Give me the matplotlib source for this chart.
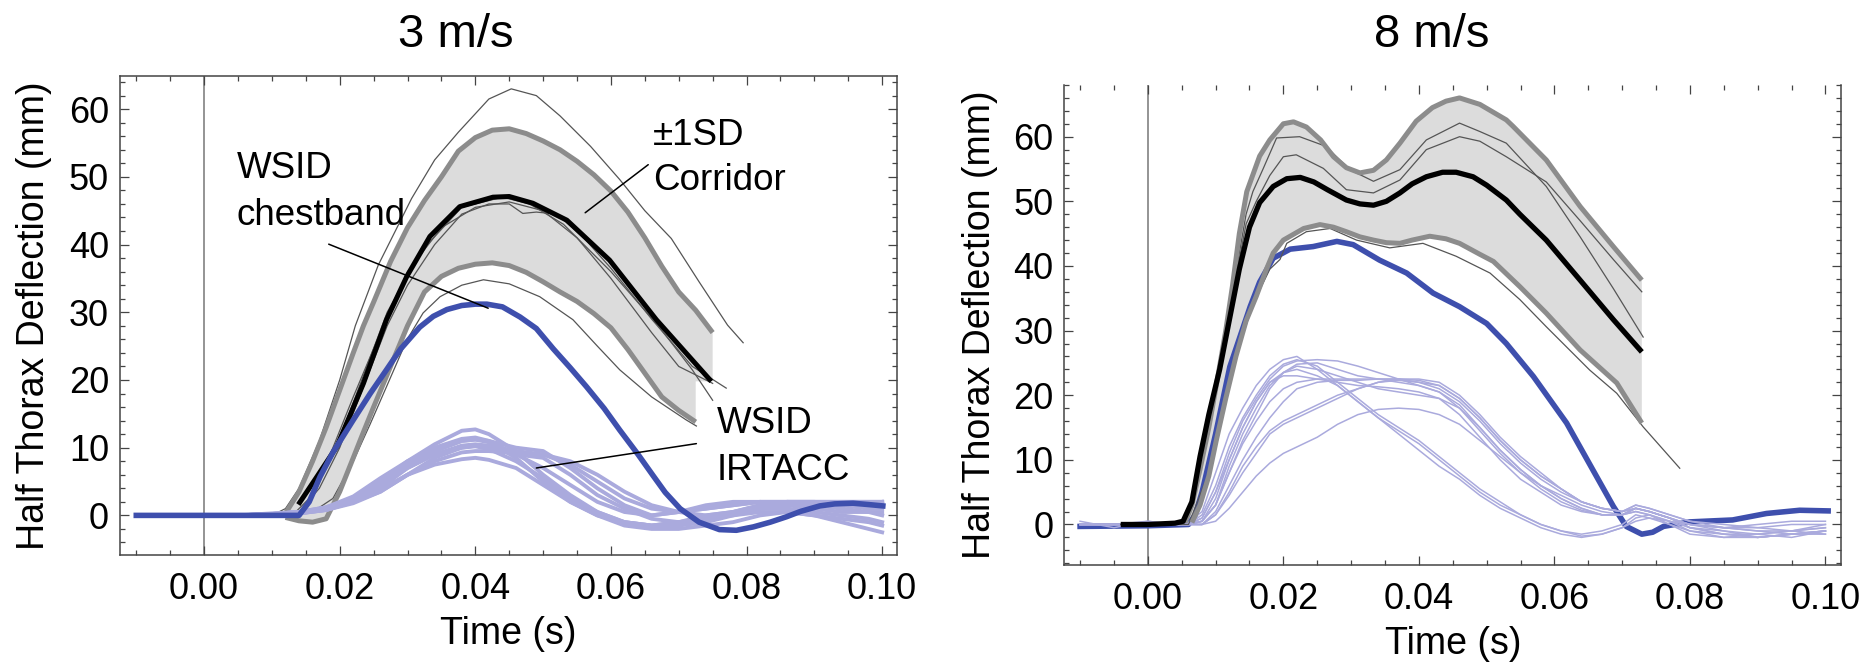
import numpy as np
import matplotlib
matplotlib.use("Agg")
import matplotlib.pyplot as plt
from matplotlib.ticker import MultipleLocator, FuncFormatter

plt.rcParams['font.family'] = ['Liberation Sans', 'DejaVu Sans']

# ================= 3 m/s =================
sd3_upper_t = [0.012, 0.014, 0.016, 0.018, 0.020, 0.022, 0.0235, 0.025, 0.0275, 0.030, 0.0325, 0.035, 0.0375, 0.040,
               0.0425, 0.045, 0.0475, 0.050, 0.0525, 0.055, 0.0575, 0.060, 0.0625, 0.065, 0.0675, 0.070, 0.0725, 0.075]
sd3_upper = [0.3, 3.5, 8, 13, 18.5, 24, 28, 31.5, 37.5, 42.5, 46.5, 50, 53.8, 55.8,
             56.9, 57.1, 56.4, 55.3, 54, 52.3, 50.3, 47.9, 44.8, 41, 36.8, 33, 30.3, 27]
sd3_lower_t = [0.012, 0.014, 0.016, 0.018, 0.020, 0.022, 0.0235, 0.025, 0.0275, 0.030, 0.0325, 0.035, 0.0375, 0.040,
               0.0425, 0.045, 0.0475, 0.050, 0.0525, 0.055, 0.0575, 0.060, 0.0625, 0.065, 0.0675, 0.070, 0.0725]
sd3_lower = [-0.3, -0.8, -1, -0.5, 3.5, 8.5, 12.3, 16, 22, 28, 33, 35.3, 36.5, 37.1,
             37.3, 36.9, 35.9, 34.5, 33, 31.6, 29.8, 27.7, 24.5, 21, 17.5, 15.5, 13.8]

mean3_t = [0.0139, 0.0165, 0.0196, 0.0235, 0.0269, 0.0299, 0.0333, 0.0377, 0.0426, 0.0450, 0.0485, 0.0535, 0.0598, 0.0667, 0.0748]
mean3 = [1.6, 5.5, 10.2, 19.5, 28.9, 35.3, 41.2, 45.6, 47.0, 47.1, 46.1, 43.6, 37.7, 28.9, 19.8]

thin3_t1 = [0.010, 0.012, 0.014, 0.017, 0.020, 0.0223, 0.0257, 0.0306, 0.0340, 0.0375, 0.0420, 0.0453, 0.0490, 0.0525,
            0.0570, 0.0613, 0.0650, 0.0689, 0.0730, 0.0772, 0.0795]
thin3_y1 = [0, 1, 4, 11, 20, 28, 37, 46.8, 52.5, 56.6, 61.5, 63, 62, 59, 54.5, 49.6, 45, 40.9, 34.5, 28.1, 25.5]
thin3_t2 = [0.013, 0.016, 0.019, 0.022, 0.0245, 0.0269, 0.0299, 0.0323, 0.0348, 0.038, 0.0412, 0.045, 0.0495, 0.0544,
            0.058, 0.0613, 0.066, 0.0711, 0.0726]
thin3_y2 = [0, 0.5, 2.5, 8, 13.5, 19, 25.9, 29.9, 32.3, 34, 34.8, 34.2, 32.3, 28.9, 25, 21.5, 17.5, 14.1, 13.2]
thin3_t3 = [0.014, 0.017, 0.020, 0.0235, 0.027, 0.030, 0.034, 0.038, 0.042, 0.045, 0.047, 0.049, 0.052, 0.056, 0.060,
            0.066, 0.072, 0.077]
thin3_y3 = [0.5, 4, 10, 19, 28, 34, 40, 44.5, 46, 46, 44.6, 44.8, 44.5, 41, 36.5, 29, 22, 18.8]
thin3_t4 = [0.013, 0.016, 0.019, 0.022, 0.026, 0.030, 0.035, 0.040, 0.045, 0.050, 0.055, 0.060, 0.066, 0.070, 0.075]
thin3_y4 = [0, 3, 10, 17.5, 27, 36, 42.5, 45.5, 46.3, 45, 41, 35, 27, 22, 19.5]
thin3_t5 = [0.014, 0.017, 0.021, 0.024, 0.027, 0.032, 0.038, 0.044, 0.048, 0.053, 0.060, 0.067, 0.072, 0.075]
thin3_y5 = [0, 5, 14, 22, 30, 39, 45.5, 47, 46, 43, 36, 28, 21.5, 17]

blue3_t = [-0.010, 0.000, 0.010, 0.0140, 0.0155, 0.0171, 0.019, 0.022, 0.0245, 0.0269, 0.029, 0.0318, 0.0338, 0.0358,
           0.038, 0.040, 0.0417, 0.044, 0.0466, 0.049, 0.0515, 0.054, 0.0564, 0.059, 0.0613, 0.064, 0.0662, 0.068,
           0.0702, 0.073, 0.076, 0.0785, 0.081, 0.0835, 0.0859, 0.088, 0.0908, 0.093, 0.0957, 0.098, 0.1001]
blue3 = [0, 0, 0, 0, 2.0, 5.7, 9.3, 14.1, 18, 21.5, 24.6, 27.8, 29.4, 30.4,
         31.0, 31.2, 31.2, 30.8, 29.3, 27.6, 24.6, 21.8, 19.0, 15.8, 12.6, 9.0, 5.9, 3.4,
         1.0, -1.0, -2.1, -2.2, -1.7, -1.0, -0.2, 0.6, 1.4, 1.7, 1.8, 1.6, 1.4]

irt3_t = [-0.010, -0.005, 0.000, 0.005, 0.010, 0.014, 0.018, 0.022, 0.026, 0.030, 0.034, 0.038, 0.040, 0.042, 0.046,
          0.050, 0.054, 0.058, 0.062, 0.066, 0.070, 0.074, 0.078, 0.082, 0.086, 0.090, 0.094, 0.098, 0.100]
irt3_1 = [0, 0, 0, 0, 0.3, 0.5, 1, 2.5, 5, 8, 10.5, 12.5, 12.7, 12, 9.5, 6, 3, 0.5, -1, -1.5, -1, -0.5, 0, 0.5, 0.5, 0, -0.5, -1, -1.5]
irt3_2 = [0, 0, 0, 0, 0.2, 0.3, 0.8, 2, 4.5, 7.5, 9.5, 11, 11.2, 10.8, 8.5, 5, 2, 0, -1.5, -2, -2, -1.5, -1, 0, 0.5, 0, -1, -2, -2.5]
irt3_3 = [0, 0, 0, 0, 0.2, 0.5, 1.2, 2.5, 4.5, 7, 9, 10, 10.2, 9.8, 8, 5.5, 2.5, 0.5, -1, -1.5, -1, 0, 0.5, 1, 1, 0.5, 0, -0.5, -1]
irt3_4 = [0, 0, 0, 0, 0, 0.3, 1, 2, 3.8, 6, 7.5, 8.3, 8.5, 8.2, 7, 4.5, 2, 0, -1, -1.5, -1.5, -1, 0, 1, 1.5, 1.5, 1, 0.5, 0]
irt3_5 = [0, 0, 0, 0, 0.2, 0.5, 1, 2.5, 5, 7.5, 9.5, 11, 11.2, 11, 10, 9.5, 7, 4, 1.5, 0, 0.5, 1.5, 2, 2, 2, 1.8, 1.5, 1.5, 2]
irt3_6 = [0, 0, 0, 0, 0, 0.3, 0.8, 2, 4, 7, 9, 10.3, 10.5, 10.3, 9.5, 9, 7.5, 5, 2.5, 1, 0.5, 1, 1.5, 2, 2, 2, 1.5, 1, 1]
irt3_7 = [0, 0, 0, 0, 0.2, 0.5, 1, 2, 3.5, 6, 8, 9.3, 9.5, 9.5, 9.2, 9, 8, 6, 3.5, 1.5, 0.5, 0, 0.5, 1.5, 2, 2, 2, 2, 2]
irt3_8 = [0, 0, 0, 0, 0.2, 0.5, 1.2, 2.8, 5.5, 8, 10, 11.3, 11.5, 11, 9, 7, 4.5, 2, 0.5, 0, 0.5, 1, 1.5, 2, 1.5, 1, 0.5, 0.5, 0.5]
irt3_9 = [0, 0, 0, 0, 0, 0.3, 0.8, 1.8, 3.5, 6, 8.5, 10, 10.3, 10, 9, 8.5, 6, 3, 1, -0.5, -1, -0.5, 0.5, 1.5, 2, 2, 2, 2, 2]

# ================= 8 m/s =================
sd8_upper_t = [0.0055, 0.0065, 0.0077, 0.009, 0.0101, 0.0115, 0.0125, 0.0135, 0.0146, 0.0165, 0.018, 0.020, 0.0215,
               0.0234, 0.0255, 0.0274, 0.0293, 0.0313, 0.0333, 0.0352, 0.0372, 0.0396, 0.042, 0.044, 0.046, 0.049,
               0.0529, 0.0539, 0.0588, 0.0638, 0.0687, 0.0729]
sd8_upper = [0.3, 3, 8.5, 15, 21.5, 30, 37, 45, 51.5, 57, 59.5, 62, 62.3,
             61.5, 59.5, 56.9, 55.2, 54.4, 54.8, 56.4, 59, 62.4, 64.5, 65.5, 66, 65,
             62.6, 61.6, 56.4, 49.2, 43, 37.8]
sd8_lower_t = [0.0065, 0.0077, 0.009, 0.0101, 0.0115, 0.013, 0.0145, 0.016, 0.0175, 0.0185, 0.020, 0.021, 0.023,
               0.0254, 0.0274, 0.0293, 0.0313, 0.0333, 0.0352, 0.0372, 0.039, 0.0416, 0.044, 0.046, 0.049, 0.051,
               0.0539, 0.0549, 0.0588, 0.0638, 0.0692, 0.0729]
sd8_lower = [0.3, 3, 7.5, 13, 19.5, 26, 31.5, 35.3, 39.5, 42, 44, 44.6, 45.8,
             46.4, 46, 45.3, 44.5, 44, 43.6, 43.5, 44, 44.6, 44.2, 43.5, 41.8, 40.7,
             37.8, 36.8, 32.7, 27, 21.9, 15.7]

mean8_t = [-0.004, 0.000, 0.004, 0.0052, 0.0065, 0.0077, 0.009, 0.0106, 0.012, 0.0135, 0.015, 0.0165, 0.0185, 0.0205,
           0.0225, 0.0245, 0.0265, 0.0293, 0.0313, 0.0333, 0.0352, 0.0372, 0.039, 0.0411, 0.0435, 0.0455, 0.048,
           0.050, 0.0529, 0.0549, 0.0588, 0.0638, 0.0687, 0.0729]
mean8 = [0, 0, 0.2, 0.5, 3.5, 10.5, 17, 24, 31.5, 39.5, 46, 49.8, 52.3, 53.5,
         53.7, 53, 51.8, 50.2, 49.6, 49.4, 50, 51.3, 52.7, 53.8, 54.5, 54.5, 53.8,
         52.5, 50.2, 48, 44, 37.8, 31.7, 26.7]

thin8_t1 = [-0.004, 0.0055, 0.0077, 0.0101, 0.012, 0.0135, 0.0145, 0.0155, 0.017, 0.019, 0.0224, 0.0263, 0.0298,
            0.0333, 0.0372, 0.0411, 0.046, 0.049, 0.0529, 0.0588, 0.0638, 0.0687, 0.0731]
thin8_y1 = [0, 0.3, 8, 21, 32, 42, 48, 51.5, 55, 59.8, 60, 58.5, 54.9, 53.1, 54.9, 59.5, 62.1, 60.8, 59, 52.3, 44.5, 36.5, 29]
thin8_t2 = [-0.004, 0.0055, 0.0077, 0.0101, 0.012, 0.0135, 0.0145, 0.016, 0.018, 0.020, 0.0219, 0.0259, 0.0293,
            0.0333, 0.0372, 0.0411, 0.046, 0.049, 0.0529, 0.0588, 0.0638, 0.0687, 0.0729]
thin8_y2 = [0, 0.3, 8, 21, 31.5, 41, 46.5, 50, 54, 56.9, 57.2, 55.1, 51.8, 51.3, 53.3, 58, 60, 59.3, 56.9, 53, 47, 41, 36]
thin8_t3 = [-0.004, 0.006, 0.009, 0.012, 0.015, 0.018, 0.0195, 0.0205, 0.0234, 0.0269, 0.0308, 0.0357, 0.0406,
            0.0455, 0.0505, 0.0549, 0.0588, 0.0652, 0.0692, 0.0731, 0.0785]
thin8_y3 = [0, 0, 8, 22, 33, 39.5, 41, 43.5, 45.3, 45.8, 44, 42.8, 43.5, 41.5, 38.9, 34.8, 30.6, 23.9, 20.3, 15.1, 8.7]

blue8_t = [-0.010, 0.000, 0.006, 0.007, 0.008, 0.010, 0.0121, 0.0151, 0.0165, 0.0185, 0.021, 0.0244, 0.0279, 0.0303,
           0.0342, 0.0382, 0.0421, 0.046, 0.050, 0.0529, 0.0569, 0.0618, 0.0657, 0.0687, 0.0706, 0.0729, 0.0745,
           0.0761, 0.080, 0.0863, 0.0913, 0.0962, 0.1004]
blue8 = [-0.3, -0.2, 0, 1.5, 5, 14, 24.4, 33.7, 37.5, 41.2, 42.6, 43, 43.8, 43.3,
         40.9, 38.9, 35.8, 33.7, 31.1, 28, 22.9, 15.7, 8.4, 2.8, -0.3, -1.5, -1.2,
         -0.3, 0.4, 0.7, 1.7, 2.2, 2.1]

irt8_t = [-0.010, -0.005, 0.000, 0.004, 0.006, 0.008, 0.010, 0.012, 0.014, 0.016, 0.018, 0.020, 0.022, 0.025, 0.028,
          0.031, 0.034, 0.037, 0.040, 0.043, 0.046, 0.049, 0.052, 0.055, 0.058, 0.061, 0.064, 0.067, 0.070, 0.072,
          0.074, 0.077, 0.080, 0.085, 0.090, 0.095, 0.100]
irt8_e1 = [0.5, -0.5, 0.5, 0, 0.3, 2, 8, 14, 18, 21.5, 24, 25.5, 26, 24, 21.5, 19, 16.5, 14.5, 12.5, 10, 7.5, 5, 3, 1.5, 0,
           -1, -1.5, -1, 0, 1.5, 1, 0, -1, -1.5, -1.5, -1, -1.5]
irt8_e2 = [0, 0, 0, 0, 0, 1.5, 6, 12, 16.5, 20, 23, 24.8, 25.5, 24.5, 22, 19.5, 17, 15, 13, 10.5, 8, 5.5, 3.5, 1.5, 0,
           -1, -1.8, -1.5, -0.5, 1, 1.5, 0, -1.5, -2, -1.5, -2, -1]
irt8_e3 = [0, 0, 0, 0, 0, 1, 5, 10, 15, 19, 22, 23.5, 24, 23, 21.5, 19, 16.5, 14, 11.5, 9, 7, 4.5, 2.5, 1, -0.5,
           -1.5, -2, -1.5, -0.5, 0.5, 1, 0.5, -0.5, -1, -2, -1.5, -1]
irt8_l1 = [0, 0, 0.5, 0, 0, 1, 5, 11, 16, 19.5, 22.5, 24.5, 25.3, 25.5, 25.3, 24.5, 23.5, 22.5, 21.5, 20.5, 18.5, 15,
           11.5, 8.5, 6, 4, 2.5, 1.5, 1.5, 2.5, 2, 1, 0, -0.5, -0.5, 0, 0]
irt8_l2 = [0, 0, 0, 0, 0, 0.5, 3, 8, 13, 17, 21, 23.5, 24.8, 25, 24, 23, 22.5, 22, 21.5, 20.5, 18, 14.5, 11, 8, 5.5,
           3.5, 2.2, 1.5, 1.5, 2.5, 2, 1, 0, -0.5, -1, -1, -0.5]
irt8_l3 = [0, 0, 0, 0, 0, 0.5, 3, 8, 12.5, 16, 19, 21, 22, 22.5, 22.5, 22.5, 22.5, 22.5, 22, 21, 19, 16, 12.5, 9.5,
           7, 5, 3.5, 2.5, 2, 3, 2.5, 1.5, 0.5, 0, -0.5, -1, 0]
irt8_l4 = [0, 0, 0, 0, 0, 0, 2, 6, 10, 13.5, 16.5, 19, 21, 22, 22.3, 22.3, 22.5, 22.5, 22.3, 21.5, 19.5, 16.5, 13, 10,
           7.5, 5.5, 3.5, 2.5, 2, 2.5, 2, 1, -0.5, -1.5, -2, -1.5, -1]
irt8_l5 = [0, 0, 0, 0, 0, 0, 1.5, 5, 9, 12, 14.5, 16, 17, 18.5, 20, 21, 22, 22.5, 22.5, 22, 20, 17, 13.5, 10.5, 8,
           5.5, 3.5, 2.5, 2, 2.5, 2, 1, 0, -1, -1.5, -1, -0.5]
irt8_l6 = [0, 0, 0, 0, 0, 0, 1.5, 4.5, 8, 11, 14, 15.5, 16.5, 18, 19.5, 21, 22, 22.3, 22, 21.5, 19.5, 16.5, 13, 10,
           7.5, 5.5, 3.5, 2.5, 2, 3, 2.5, 1.5, 0.5, -0.5, -1, -1.5, -1]
irt8_l7 = [0, 0, 0, 0, 0, 0, 0.5, 2.5, 5, 7.5, 9.5, 11, 12, 13.5, 15.5, 17, 17.8, 18, 17.8, 17, 15.5, 13, 10.5, 8,
           6, 4.5, 3, 2, 1.5, 2, 1.5, 0.5, 0, -0.5, 0, 0.5, 0.5]
irt8_l8 = [0, 0, 0, 0, 0, 0.5, 3, 9, 14, 18, 21.5, 23.5, 24.5, 24, 23, 22, 21, 20.5, 20, 19.5, 18, 15, 11.5, 8.5,
           6, 4, 2.5, 1.5, 1.5, 2.5, 2, 1, -0.5, -1.5, -2, -1.5, -1]
irt8_l9 = [0, 0, 0, 0, 0, 0.5, 4, 10, 15, 19, 22, 23, 23, 22.5, 22, 21.5, 21.3, 21, 20.5, 19.5, 17, 13.5, 10, 7, 5,
           3, 2, 1.5, 1.5, 2, 1.5, 0.5, -1, -2, -2, -1.5, -1.5]

titles = ["3 m/s", "8 m/s"]
x_label = "Time (s)"
y_label = "Half Thorax Deflection (mm)"

# ---------------- styles ----------------
BLUE = '#3e4fad'
PURPLE = '#aaaadd'
SDGRAY = '#8c8c8c'
THIN = '#555555'
FILL = '#dcdcdc'
FRAME = '#444444'
TICKFS = 26
LABFS = 27
ANNFS = 26.5

fig = plt.figure(figsize=(18.68, 6.64), dpi=100)
axL = fig.add_axes([0.06424, 0.16416, 0.4160, 0.7214])
axR = fig.add_axes([0.56986, 0.14910, 0.4157, 0.7229])


def style(ax, xlim, ylim, top_spine=True):
    ax.set_xlim(*xlim)
    ax.set_ylim(*ylim)
    ax.xaxis.set_major_locator(MultipleLocator(0.02))
    ax.xaxis.set_minor_locator(MultipleLocator(0.005))
    ax.yaxis.set_major_locator(MultipleLocator(10))
    ax.yaxis.set_minor_locator(MultipleLocator(2))
    ax.xaxis.set_major_formatter(FuncFormatter(lambda v, p: f"{0.0 if abs(v) < 1e-9 else v:.2f}"))
    ax.yaxis.set_major_formatter(FuncFormatter(lambda v, p: f"{0 if abs(v) < 1e-9 else v:.0f}"))
    ax.tick_params(which='both', direction='in', top=True, right=True, color=FRAME,
                   labelcolor='black', labelsize=TICKFS)
    ax.tick_params(which='major', length=6.5, width=0.9)
    ax.tick_params(which='minor', length=3.6, width=0.9)
    ax.tick_params(axis='x', which='major', pad=12)
    ax.tick_params(axis='y', which='major', pad=8)
    for s in ax.spines.values():
        s.set_color(FRAME)
        s.set_linewidth(1.1)
    if not top_spine:
        ax.spines['top'].set_visible(False)
    ax.axvline(0, color='#777777', lw=1.1, zorder=0.5)


style(axL, (-0.0124, 0.1022), (-5.85, 64.9))
style(axR, (-0.0123, 0.1023), (-6.27, 68.0), top_spine=False)

# ---------- left panel ----------
axL.fill(list(sd3_upper_t) + [sd3_upper_t[-1], sd3_lower_t[-1]] + sd3_lower_t[::-1],
         list(sd3_upper) + [mean3[-1], mean3[-1]] + sd3_lower[::-1],
         color=FILL, lw=0, zorder=1)
for tt, yy in [(thin3_t1, thin3_y1), (thin3_t2, thin3_y2), (thin3_t3, thin3_y3),
               (thin3_t4, thin3_y4), (thin3_t5, thin3_y5)]:
    axL.plot(tt, yy, color=THIN, lw=0.9, zorder=2)
axL.plot(sd3_upper_t, sd3_upper, color=SDGRAY, lw=3.6, zorder=3, solid_capstyle='butt')
axL.plot(sd3_lower_t, sd3_lower, color=SDGRAY, lw=3.6, zorder=3, solid_capstyle='butt')
axL.plot(mean3_t, mean3, color='black', lw=3.6, zorder=4, solid_capstyle='butt')
for yy in [irt3_1, irt3_2, irt3_3, irt3_4, irt3_5, irt3_6, irt3_7, irt3_8, irt3_9]:
    axL.plot(irt3_t, yy, color=PURPLE, lw=2.8, zorder=5)
axL.plot(blue3_t, blue3, color=BLUE, lw=4.0, zorder=6)

axL.text(0.00482, 49.8, "WSID", fontsize=ANNFS, ha='left', va='baseline')
axL.text(0.00482, 42.9, "chestband", fontsize=ANNFS, ha='left', va='baseline')
axL.annotate('', xy=(0.0419, 30.6), xytext=(0.01838, 40.06),
             arrowprops=dict(arrowstyle='-', lw=1.1, color='black', shrinkA=0, shrinkB=0), zorder=7)
axL.text(0.0662, 54.7, "\u00b11SD", fontsize=ANNFS, ha='left', va='baseline')
axL.text(0.0662, 48.1, "Corridor", fontsize=ANNFS, ha='left', va='baseline')
axL.annotate('', xy=(0.0562, 44.7), xytext=(0.0655, 51.8),
             arrowprops=dict(arrowstyle='-', lw=1.1, color='black', shrinkA=0, shrinkB=0), zorder=7)
axL.text(0.0756, 12.1, "WSID", fontsize=ANNFS, ha='left', va='baseline')
axL.text(0.0756, 5.3, "IRTACC", fontsize=ANNFS, ha='left', va='baseline')
axL.annotate('', xy=(0.049, 7.0), xytext=(0.0726, 10.6),
             arrowprops=dict(arrowstyle='-', lw=1.1, color='black', shrinkA=0, shrinkB=0), zorder=7)

# ---------- right panel ----------
axR.fill(sd8_upper_t + sd8_lower_t[::-1], sd8_upper + sd8_lower[::-1], color=FILL, lw=0, zorder=1)
axR.plot(blue8_t, blue8, color=BLUE, lw=4.0, zorder=2)
for yy in [irt8_e1, irt8_e2, irt8_e3, irt8_l1, irt8_l2, irt8_l3, irt8_l4, irt8_l5, irt8_l6, irt8_l7, irt8_l8, irt8_l9]:
    axR.plot(irt8_t, yy, color=PURPLE, lw=1.1, zorder=3)
for tt, yy in [(thin8_t1, thin8_y1), (thin8_t2, thin8_y2), (thin8_t3, thin8_y3)]:
    axR.plot(tt, yy, color=THIN, lw=0.9, zorder=4)
axR.plot(sd8_upper_t, sd8_upper, color=SDGRAY, lw=3.6, zorder=5, solid_capstyle='butt')
axR.plot(sd8_lower_t, sd8_lower, color=SDGRAY, lw=3.6, zorder=5, solid_capstyle='butt')
axR.plot(mean8_t, mean8, color='black', lw=3.8, zorder=6, solid_capstyle='butt')

# ---------- labels ----------
axL.set_title(titles[0], fontsize=34, x=0.4324, pad=21)
axR.set_title(titles[1], fontsize=34, x=0.4733, pad=27)
for ax, yp in [(axL, 12), (axR, 11)]:
    ax.set_xlabel(x_label, fontsize=LABFS, labelpad=7)
    ax.set_ylabel(y_label, fontsize=LABFS, labelpad=yp)

fig.savefig("out.png", dpi=100)
